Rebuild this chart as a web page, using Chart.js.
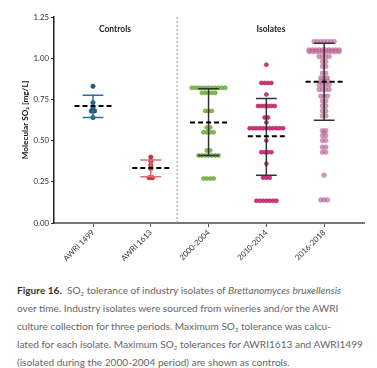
<!DOCTYPE html>
<html>
<head>
<meta charset="utf-8">
<script src="https://cdn.jsdelivr.net/npm/chart.js@4/dist/chart.umd.min.js"></script>
<style>
  body { margin: 0; background: #fff; }
  #wrap { position: relative; width: 377px; height: 368px; overflow: hidden; }
  #chart { position: absolute; left: 0; top: 0; }
  .caption {
    position: absolute; left: 17px; top: 281px;
    font-family: Lato, sans-serif; font-size: 10.1px; line-height: 18px;
    color: #666; white-space: nowrap;
  }
  .caption b { color: #333; }
  .caption sub { font-size: 6px; line-height: 0; vertical-align: -2px; }
</style>
</head>
<body>
<div id="wrap">
  <canvas id="chart" width="377" height="275"></canvas>
  <div class="caption">
    <b>Figure 16.</b>&nbsp; SO<sub>2</sub> tolerance of industry isolates of <i>Brettanomyces bruxellensis</i><br>
    over time. Industry isolates were sourced from wineries and/or the AWRI<br>
    culture collection for three periods. Maximum SO<sub>2</sub> tolerance was calcu-<br>
    lated for each isolate. Maximum SO<sub>2</sub> tolerances for AWRI1613 and AWRI1499<br>
    (isolated during the 2000-2004 period) are shown as controls.
  </div>
</div>
<script>
// categories and values (mg/L)
const categories = ['AWRI 1499', 'AWRI 1613', '2000-2004', '2010-2014', '2016-2018'];

const awri1499 = [0.83, 0.73, 0.70, 0.68, 0.68, 0.64];
const awri1613 = [0.40, 0.375, 0.35, 0.33, 0.275, 0.275];
const iso0004 = [
  0.82, 0.82, 0.82, 0.82, 0.82, 0.82, 0.82, 0.82, 0.82, 0.82, 0.82,
  0.79, 0.79, 0.79, 0.79, 0.79,
  0.68, 0.68, 0.68,
  0.58, 0.58,
  0.55, 0.55, 0.55, 0.55,
  0.44, 0.44,
  0.41, 0.41, 0.41, 0.41, 0.41, 0.41, 0.41,
  0.27, 0.27, 0.27, 0.27
];
const iso1014 = [
  0.96,
  0.85, 0.85, 0.85, 0.85,
  0.78,
  0.71, 0.71, 0.71, 0.71, 0.71, 0.71,
  0.64, 0.64,
  0.61,
  0.575, 0.575, 0.575, 0.575, 0.575, 0.575, 0.575, 0.575, 0.575, 0.575, 0.575,
  0.50,
  0.43, 0.43, 0.43, 0.43,
  0.36,
  0.275, 0.275, 0.275,
  0.135, 0.135, 0.135, 0.135, 0.135, 0.135, 0.135
];
const iso1618 = [
  1.10, 1.10, 1.10, 1.10, 1.10, 1.10, 1.10,
  1.05, 1.05, 1.05, 1.05, 1.05, 1.05, 1.05, 1.05, 1.05, 1.05,
  1.04, 1.04, 1.04, 1.04, 1.04, 1.04, 1.04, 1.04, 1.04, 1.04,
  1.01, 1.01, 1.01, 1.01,
  0.98, 0.98,
  0.95, 0.95,
  0.91, 0.91,
  0.88, 0.88, 0.88,
  0.86, 0.86, 0.86,
  0.84, 0.84, 0.84, 0.84,
  0.81, 0.81, 0.81, 0.81,
  0.77, 0.77, 0.77,
  0.74, 0.74,
  0.71, 0.71,
  0.68, 0.68,
  0.65, 0.65,
  0.56, 0.56,
  0.55,
  0.53, 0.53,
  0.50, 0.50,
  0.46, 0.46,
  0.43, 0.43,
  0.29,
  0.14, 0.14, 0.14
];
const groups = [awri1499, awri1613, iso0004, iso1014, iso1618];

// mean and error bar ends
const means = [0.71, 0.334, 0.61, 0.526, 0.857];
const barLow = [0.64, 0.28, 0.41, 0.29, 0.623];
const barHigh = [0.775, 0.382, 0.815, 0.755, 1.09];

const yTicks = [0, 0.25, 0.5, 0.75, 1.0, 1.25];

// styles
const dotFill = ['#1d5f86', '#c9343f', '#80c04a', '#d4327e', 'rgba(192,110,155,0.7)'];
const dotEdge = ['#174c6b', '#a8262f', '#5f9a32', '#b0245f', 'rgba(170,90,135,0.5)'];
const dotSize = [2.2, 2.2, 2.0, 2.0, 2.4];
const barColor = ['#2b6f9a', '#e26a70', '#333', '#333', '#333'];
const DOT_STEP = 0.058;
const CAP = 0.18;
const MEAN_HALF = 0.32;

const FONT = 'Lato, "Open Sans", sans-serif';

// spread equal values sideways like a dot plot
function swarm(values, idx) {
  const rows = {};
  values.forEach(v => {
    const k = v.toFixed(3);
    (rows[k] = rows[k] || []).push(v);
  });
  const pts = [];
  Object.values(rows).forEach(row => {
    row.forEach((v, j) => {
      pts.push({ x: idx + (j - (row.length - 1) / 2) * DOT_STEP, y: v });
    });
  });
  return pts;
}

const gap = i => ({ x: i, y: null });

const meanData = [];
means.forEach((m, i) => {
  meanData.push({ x: i - MEAN_HALF, y: m }, { x: i + MEAN_HALF, y: m }, gap(i));
});

const datasets = [{
  data: meanData,
  showLine: true,
  borderColor: '#000',
  borderWidth: 2,
  borderDash: [5, 3],
  pointRadius: 0,
  order: 0
}];

groups.forEach((vals, i) => {
  datasets.push({
    data: [
      { x: i, y: barLow[i] }, { x: i, y: barHigh[i] }, gap(i),
      { x: i - CAP, y: barHigh[i] }, { x: i + CAP, y: barHigh[i] }, gap(i),
      { x: i - CAP, y: barLow[i] }, { x: i + CAP, y: barLow[i] }
    ],
    showLine: true,
    borderColor: barColor[i],
    borderWidth: 1.5,
    pointRadius: 0,
    order: 1
  });
  datasets.push({
    data: swarm(vals, i),
    pointRadius: dotSize[i],
    pointBackgroundColor: dotFill[i],
    pointBorderColor: dotEdge[i],
    pointBorderWidth: 0.6,
    order: 2
  });
});

// group labels and the dashed divider between controls and isolates
const annotate = {
  id: 'annotate',
  afterDraw(chart) {
    const { ctx, chartArea, scales: { x, y } } = chart;
    ctx.save();
    const xd = x.getPixelForValue(1.455);
    ctx.strokeStyle = '#999';
    ctx.lineWidth = 1;
    ctx.setLineDash([2, 2]);
    ctx.beginPath();
    ctx.moveTo(xd, chartArea.top);
    ctx.lineTo(xd, chartArea.bottom);
    ctx.stroke();
    ctx.setLineDash([]);
    ctx.fillStyle = '#222';
    ctx.font = 'bold 8.5px ' + FONT;
    ctx.textAlign = 'center';
    ctx.textBaseline = 'middle';
    ctx.fillText('Controls', x.getPixelForValue(0.38), y.getPixelForValue(1.177));
    ctx.fillText('Isolates', x.getPixelForValue(3.08), y.getPixelForValue(1.177));
    ctx.restore();
  }
};

new Chart(document.getElementById('chart'), {
  type: 'scatter',
  data: { datasets },
  plugins: [annotate],
  options: {
    responsive: false,
    animation: false,
    events: [],
    layout: { padding: { top: 17, right: 13, left: 0, bottom: 0 } },
    plugins: { legend: { display: false }, tooltip: { enabled: false } },
    scales: {
      x: {
        type: 'linear',
        min: -0.675,
        max: 4.69,
        afterBuildTicks: axis => { axis.ticks = categories.map((c, i) => ({ value: i })); },
        afterFit: axis => { axis.height = 52; },
        ticks: {
          callback: v => categories[v],
          minRotation: 45,
          maxRotation: 45,
          autoSkip: false,
          padding: 1,
          color: '#333',
          font: { family: FONT, size: 7.8 }
        },
        grid: { drawOnChartArea: false, tickLength: 4, color: '#555', lineWidth: 1 },
        border: { color: '#777', width: 2 }
      },
      y: {
        min: 0,
        max: 1.25,
        afterBuildTicks: axis => { axis.ticks = yTicks.map(v => ({ value: v })); },
        afterFit: axis => { axis.width = 54; },
        ticks: {
          callback: v => v.toFixed(2),
          padding: 2,
          color: '#333',
          font: { family: FONT, size: 7.8 }
        },
        grid: { drawOnChartArea: false, tickLength: 3, color: '#222', lineWidth: 1 },
        border: { color: '#222', width: 1.5 },
        title: {
          display: true,
          text: 'Molecular SO₂ [mg/L]',
          color: '#111',
          padding: { top: 20, bottom: 0 },
          font: { family: FONT, size: 8.2, weight: 'bold' }
        }
      }
    }
  }
});
</script>
</body>
</html>
